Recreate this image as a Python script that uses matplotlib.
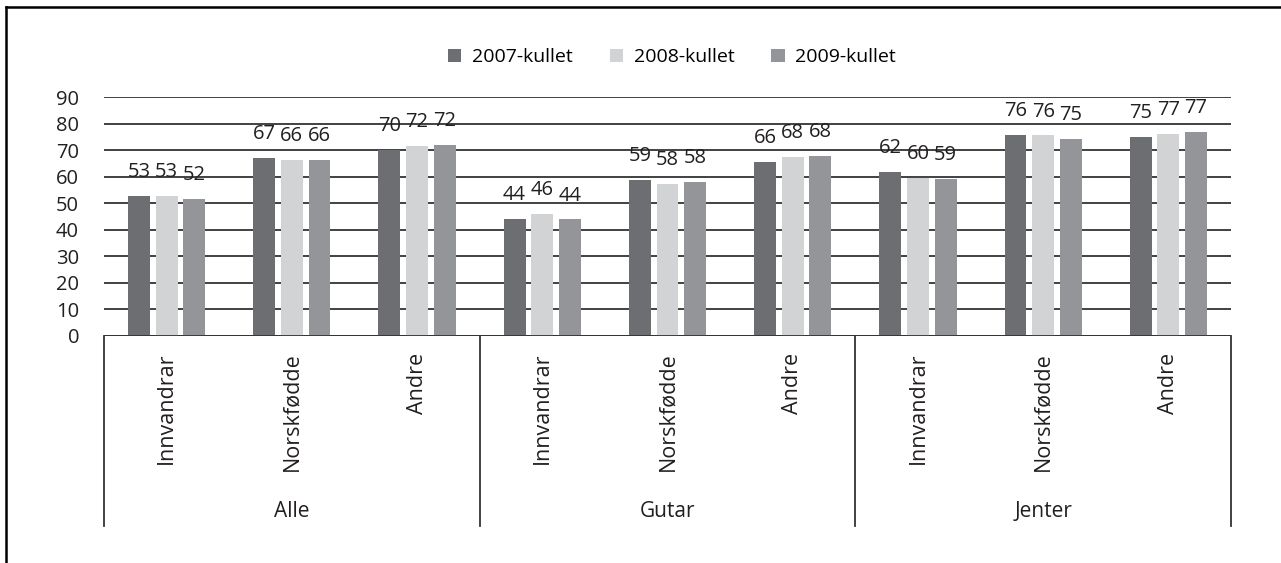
import matplotlib.pyplot as plt
import numpy as np
from matplotlib.patches import Patch
from matplotlib.lines import Line2D
from matplotlib.transforms import blended_transform_factory

plt.rcParams['font.family'] = ['Open Sans', 'DejaVu Sans']

groups = ["Alle", "Gutar", "Jenter"]
subcats = ["Innvandrar", "Norskfødde", "Andre"]
series_names = ["2007-kullet", "2008-kullet", "2009-kullet"]
colors = ["#6d6e71", "#d1d3d4", "#939598"]

# values per category (Alle x3, Gutar x3, Jenter x3)
v2007 = [52.8, 67.1, 70.1, 44.0, 58.9, 65.6, 61.7, 75.8, 75.0]
v2008 = [52.8, 66.3, 71.7, 45.9, 57.4, 67.6, 59.5, 75.6, 76.3]
v2009 = [51.6, 66.3, 72.0, 43.9, 58.0, 67.8, 59.1, 74.4, 76.8]
labels2007 = ["53", "67", "70", "44", "59", "66", "62", "76", "75"]
labels2008 = ["53", "66", "72", "46", "58", "68", "60", "76", "77"]
labels2009 = ["52", "66", "72", "44", "58", "68", "59", "75", "77"]

series = [v2007, v2008, v2009]
series_labels = [labels2007, labels2008, labels2009]

fig = plt.figure(figsize=(12.81, 5.63), dpi=100)
ax = fig.add_axes([104 / 1281, 1 - 335.5 / 563, (1231 - 104) / 1281, (335.5 - 97.3) / 563])

x = np.arange(len(v2007))
width = 0.175
offsets = [-0.221, 0, 0.221]

for vals, labs, off, c in zip(series, series_labels, offsets, colors):
    bars = ax.bar(x + off, vals, width, color=c, zorder=3)
    for b, lab in zip(bars, labs):
        ax.annotate(lab, (b.get_x() + b.get_width() / 2, b.get_height()),
                    xytext=(0, 13.5), textcoords="offset points",
                    ha="center", va="baseline", fontsize=14.5, color="#231f20")

ax.set_xlim(-0.5, 8.5)
ax.set_ylim(0, 90)
ax.set_yticks(range(0, 91, 10))
ax.tick_params(axis="y", length=0, pad=18, labelsize=14.5, labelcolor="#231f20")
ax.set_xticks([])
for s in ax.spines.values():
    s.set_visible(False)
ax.grid(axis="y", color="#333333", linewidth=1.3, zorder=0)
ax.axhline(0, color="#333333", linewidth=1.3, zorder=4)

trans = blended_transform_factory(ax.transData, ax.transAxes)
for i, xi in enumerate(x):
    ax.text(xi, -0.072, subcats[i % 3], rotation=90, ha="center", va="top",
            fontsize=15.5, color="#231f20", transform=trans)
for g, name in enumerate(groups):
    ax.text(3 * g + 1, -0.737, name, ha="center", va="center",
            fontsize=15, color="#231f20", transform=trans)
for xs in [-0.5, 2.5, 5.5, 8.5]:
    ax.plot([xs, xs], [0, -0.8], color="#333333", linewidth=1.3,
            transform=trans, clip_on=False)

handles = [Patch(facecolor=c, edgecolor="none") for c in colors]
fig.legend(handles, series_names, loc="center", bbox_to_anchor=(672 / 1281, 1 - 57 / 563),
           ncol=3, frameon=False, fontsize=14, handlelength=0.68, handleheight=0.68,
           handletextpad=0.55, columnspacing=1.9)

# outer frame (only top and left edges fall inside the picture)
fig.add_artist(Line2D([5.5 / 1281, 1], [1 - 6.5 / 563, 1 - 6.5 / 563], color="black",
                      linewidth=1.8, transform=fig.transFigure))
fig.add_artist(Line2D([5.5 / 1281, 5.5 / 1281], [0, 1 - 6.5 / 563], color="black",
                      linewidth=1.8, transform=fig.transFigure))

fig.savefig("out.png", dpi=100)
